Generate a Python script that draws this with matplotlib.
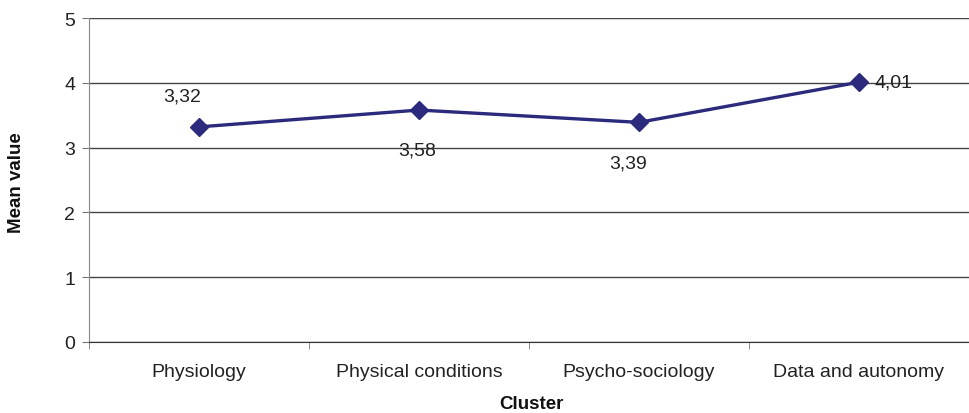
import matplotlib.pyplot as plt
import numpy as np

plt.rcParams['font.family'] = ['Liberation Sans', 'DejaVu Sans']

# data
clusters = ["Physiology", "Physical conditions", "Psycho-sociology", "Data and autonomy"]
means = [3.32, 3.58, 3.39, 4.01]
labels = ["3,32", "3,58", "3,39", "4,01"]
# label placement (offset in points, alignment)
label_pos = [((-12, 16), 'center', 'bottom'),
             ((-1, -23), 'center', 'top'),
             ((-8, -23), 'center', 'top'),
             ((11, 0), 'left', 'center')]

fig = plt.figure(figsize=(9.69, 4.14), dpi=100)
ax = fig.add_axes([0.0918, 0.1715, 0.9082, 0.7825])

x = np.arange(len(clusters))
ax.plot(x, means, color='#2B2A7C', lw=2.4, marker='D', markersize=9, zorder=3)

for xi, yi, txt, (off, ha, va) in zip(x, means, labels, label_pos):
    ax.annotate(txt, (xi, yi), xytext=off, textcoords='offset points',
                ha=ha, va=va, fontsize=14, color='#222222')

ax.set_xlim(-0.5, 3.5)
ax.set_ylim(0, 5)
ax.set_yticks(range(6))
ax.yaxis.grid(True, color='#444444', lw=1)
ax.set_axisbelow(True)

ax.set_xticks(x)
ax.set_xticklabels(clusters, fontsize=14, color='#222222')
ax.set_xticks(np.arange(-0.5, 4, 1), minor=True)
ax.tick_params(axis='x', which='major', length=0, pad=15)
ax.tick_params(axis='x', which='minor', length=5, color='#777777')
ax.tick_params(axis='y', length=5, color='#777777', labelsize=14, labelcolor='#222222', pad=5)

for s in ['top', 'right']:
    ax.spines[s].set_visible(False)
ax.spines['left'].set_color('#888888')
ax.spines['bottom'].set_color('#333333')

ax.set_ylabel("Mean value", fontsize=13.5, fontweight='bold', color='#111111')
ax.yaxis.set_label_coords(-0.073, 0.494)
ax.set_xlabel("Cluster", fontsize=13.5, fontweight='bold', color='#111111')
ax.xaxis.set_label_coords(0.503, -0.165)

fig.savefig('out.png', dpi=100)
